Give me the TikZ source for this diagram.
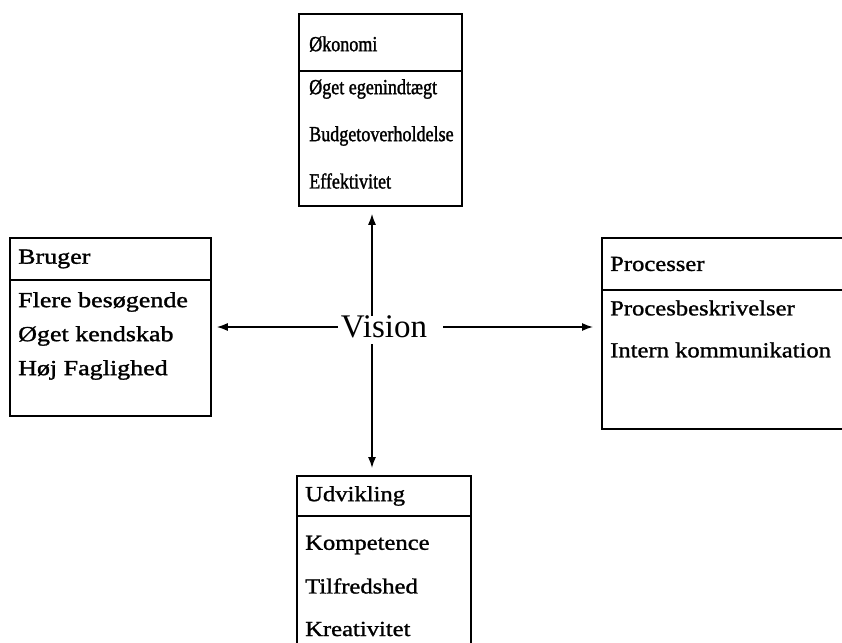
\documentclass[tikz,border=0pt]{standalone}
\usepackage{fontspec}
\setmainfont{Liberation Serif}
\newfontfamily\wideserif[FakeStretch=1.145,FakeBold=1.2]{Liberation Serif}
\newfontfamily\widerserif[FakeStretch=1.21,FakeBold=1.4]{Liberation Serif}
\newfontfamily\narrowserif[FakeStretch=0.84,FakeBold=1.4]{Liberation Serif}
\usetikzlibrary{arrows.meta}
\begin{document}
\begin{tikzpicture}[x=1pt,y=-1pt,
  boxline/.style={draw=black, line width=1.8pt, inner sep=0pt, anchor=north west},
  divline/.style={draw=black, line width=1.8pt},
  lbl/.style={anchor=west, inner sep=0pt, font=\wideserif\fontsize{21.5}{24}\selectfont},
  lblb/.style={anchor=west, inner sep=0pt, font=\widerserif\fontsize{21.5}{24}\selectfont},
  lblo/.style={anchor=west, inner sep=0pt, font=\narrowserif\fontsize{21.5}{24}\selectfont},
  arr/.style={line width=1.4pt, -{Latex[length=11pt,width=8pt]}}]
\useasboundingbox (0,0) rectangle (842,642);
\clip (0,0) rectangle (842,642);
% boxes
\node[boxline, minimum width=163pt, minimum height=192pt] (okbox) at (298,13) {};
\node[boxline, minimum width=201pt, minimum height=178pt] (brbox) at (9,237) {};
\node[boxline, minimum width=250pt, minimum height=191pt] (prbox) at (601,237) {};
\node[boxline, minimum width=174pt, minimum height=190pt] (udbox) at (296,475) {};
% dividers
\draw[divline] (298,71) -- (461,71);
\draw[divline] (9,280) -- (210,280);
\draw[divline] (601,290) -- (851,290);
\draw[divline] (296,516) -- (470,516);
% Okonomi texts
\node[lblo] (ok0) at (309,44) {Økonomi};
\node[lblo] (ok1) at (309,89) {Øget egenindtægt};
\node[lblo] (ok2) at (309,136) {Budgetoverholdelse};
\node[lblo] (ok3) at (309,181) {Effektivitet};
% Bruger texts
\node[lblb] (br0) at (18,259) {Bruger};
\node[lblb] (br1) at (18,302) {Flere besøgende};
\node[lblb] (br2) at (18,336) {Øget kendskab};
\node[lblb] (br3) at (18,370) {Høj Faglighed};
% Processer texts
\node[lbl] (pr0) at (610,264) {Processer};
\node[lbl] (pr1) at (610,308) {Procesbeskrivelser};
\node[lbl] (pr2) at (610,350) {Intern kommunikation};
% Udvikling texts
\node[lbl] (ud0) at (305,496) {Udvikling};
\node[lbl] (ud1) at (305,545) {Kompetence};
\node[lbl] (ud2) at (305,586) {Tilfredshed};
\node[lbl] (ud3) at (305,629) {Kreativitet};
% Vision
\node[inner sep=0pt, font=\fontsize{33}{36}\selectfont] (vision) at (384,327) {Vision};
\coordinate (vx) at (372,327);
% arrows
\draw[arr, shorten >=5pt] ([xshift=-3pt]vision.west) -- (vision.west -| brbox.east);
\draw[arr, shorten >=8pt] ([xshift=16pt]vision.east) -- (vision.east -| prbox.west);
\draw[arr, shorten >=7pt] (vx |- vision.north) -- (vx |- okbox.south);
\draw[arr, shorten >=7pt] ([yshift=-6pt]vx |- vision.south) -- (vx |- udbox.north);
\end{tikzpicture}
\end{document}
